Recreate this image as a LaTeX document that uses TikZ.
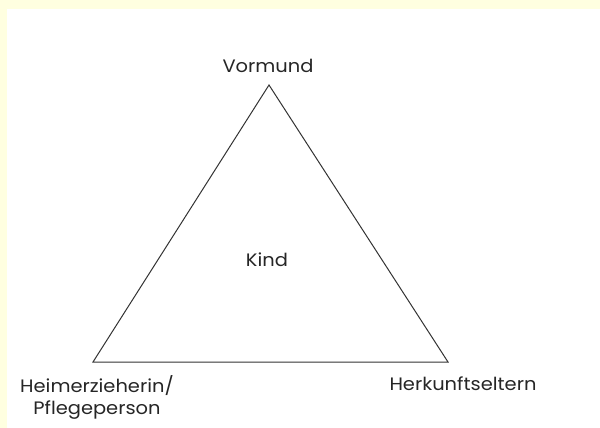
\documentclass[tikz,border=0pt]{standalone}
\usepackage{fontspec}
\setmainfont{Poppins}[FakeStretch=1.08]
\definecolor{bgyellow}{HTML}{FFFFE0}
\begin{document}
\begin{tikzpicture}[x=1pt,y=-1pt,
  lbl/.style={inner sep=0pt, font=\fontsize{18}{22}\selectfont, text=black!85, align=center},
  edge/.style={draw=black!80, line width=1pt}]
\useasboundingbox (0,0) rectangle (600,428);
\fill[bgyellow] (0,0) rectangle (600,428);
\fill[white] (7,9) rectangle (600,428);
\coordinate (top) at (269,85);
\coordinate (bl) at (93,362);
\coordinate (br) at (448,362);
\draw[edge, line join=miter] (top) -- (bl) -- (br) -- cycle;
\node[lbl] (vormund) at (268,66) {Vormund};
\node[lbl] (kind) at (267,260) {Kind};
\node[lbl] (heim) at (97,397) {Heimerzieherin/\\Pflegeperson};
\node[lbl] (herk) at (463,384) {Herkunftseltern};
\end{tikzpicture}
\end{document}
